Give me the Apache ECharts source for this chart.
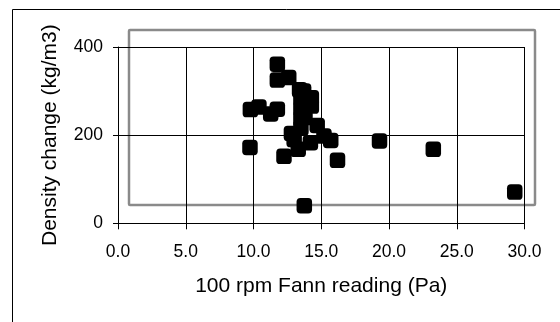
<!DOCTYPE html>
<html>
<head>
<meta charset="utf-8">
<style>
  html, body { margin: 0; padding: 0; background: #fff; }
  #chart { width: 560px; height: 322px; }
</style>
<script src="https://cdn.jsdelivr.net/npm/echarts@6/dist/echarts.min.js"></script>
</head>
<body>
<div id="chart"></div>
<script>
// 100 rpm Fann reading (Pa)
var fannReading = [9.77, 10.4, 9.74, 11.27, 11.76, 11.76, 11.76, 12.6, 13.4, 13.7,
  14.27, 14.27, 13.5, 13.5, 13.5, 13.5, 14.7, 15.2, 15.7, 12.25,
  13.3, 14.2, 12.8, 16.2, 13.75, 19.3, 23.27, 29.28, 13.0, 13.8];
// Density change (kg/m3)
var densityChange = [258, 264, 172, 248, 259, 361, 325, 331, 303, 300,
  285, 266, 284, 261, 238, 216, 222, 198, 188, 152,
  168, 183, 204, 143, 40, 187, 168, 71, 190, 240];
var xTicks = [0, 5, 10, 15, 20, 25, 30];
var yTicks = [0, 200, 400];

var points = [];
for (var i = 0; i < fannReading.length; i++) {
  points.push([fannReading[i], densityChange[i]]);
}

var myChart = echarts.init(document.getElementById('chart'));
myChart.setOption({
  animation: false,
  textStyle: { fontFamily: 'Liberation Sans, Arial, sans-serif', color: '#000' },
  grid: { left: 118, right: 35.5, top: 47, bottom: 98.7 },
  graphic: [
    {
      type: 'rect', z: -10, silent: true,
      shape: { x: 12.5, y: 9.5, width: 600, height: 400 },
      style: { fill: null, stroke: '#000', lineWidth: 1 }
    },
    {
      type: 'rect', z: -5, silent: true,
      shape: { x: 129, y: 30, width: 406, height: 175, r: 1 },
      style: { fill: null, stroke: '#8a8a8a', lineWidth: 2.5 }
    }
  ],
  xAxis: {
    type: 'value',
    min: xTicks[0],
    max: xTicks[xTicks.length - 1],
    interval: 5,
    name: '100 rpm Fann reading (Pa)',
    nameLocation: 'middle',
    nameGap: 52,
    nameTextStyle: { fontSize: 21, color: '#000' },
    axisLine: { show: true, lineStyle: { color: '#000', width: 1 } },
    axisTick: { show: true, length: 6, lineStyle: { color: '#000' } },
    axisLabel: {
      fontSize: 17.5, color: '#000', margin: 20,
      formatter: function (v) { return v.toFixed(1); }
    },
    splitLine: { show: true, lineStyle: { color: '#000', width: 1 } }
  },
  yAxis: {
    type: 'value',
    min: yTicks[0],
    max: yTicks[yTicks.length - 1],
    interval: 200,
    name: 'Density change (kg/m3)',
    nameLocation: 'middle',
    nameGap: 57,
    nameTextStyle: { fontSize: 21, color: '#000' },
    axisLine: { show: true, lineStyle: { color: '#000', width: 1 } },
    axisTick: { show: true, length: 5, lineStyle: { color: '#000' } },
    axisLabel: { fontSize: 17.5, color: '#000', margin: 15 },
    splitLine: { show: true, lineStyle: { color: '#000', width: 1 } }
  },
  series: [
    {
      type: 'scatter',
      symbol: 'roundRect',
      symbolSize: 15.5,
      itemStyle: { color: '#000', opacity: 1 },
      data: points
    }
  ]
});
</script>
</body>
</html>
